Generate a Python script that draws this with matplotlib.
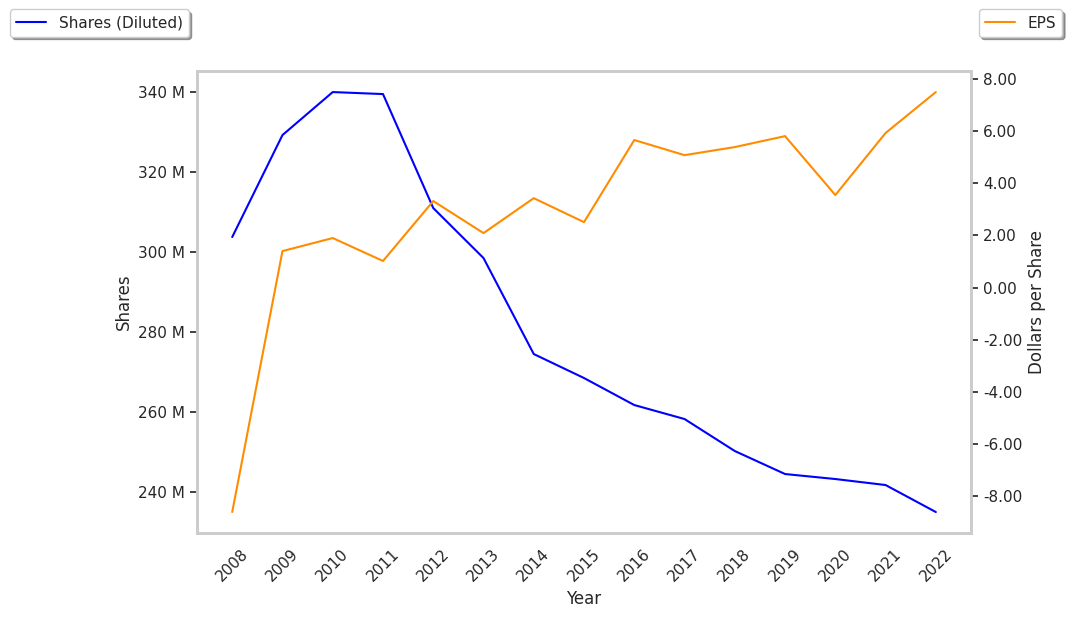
import matplotlib
matplotlib.use("Agg")
import matplotlib.pyplot as plt
import matplotlib.ticker as mticker
import seaborn as sns

years = [2008, 2009, 2010, 2011, 2012, 2013, 2014, 2015, 2016, 2017, 2018, 2019, 2020, 2021, 2022]
shares = [303.75, 329.25, 340.0, 339.5, 311.0, 298.5, 274.5, 268.5, 261.75, 258.25, 250.25, 244.5, 243.25, 241.75, 235.0]
eps = [-8.61, 1.40, 1.90, 1.02, 3.32, 2.09, 3.43, 2.51, 5.66, 5.08, 5.39, 5.81, 3.55, 5.93, 7.50]

sns.set_theme(style="white")
plt.rcParams['font.family'] = ['DejaVu Sans']

fig = plt.figure(figsize=(10.72, 6.18), dpi=100)
ax = fig.add_axes([0.1838, 0.1375, 0.722, 0.7475])
ax2 = ax.twinx()

l1, = ax.plot(years, [s * 1e6 for s in shares], color="blue", linewidth=1.5, label="Shares (Diluted)")
l2, = ax2.plot(years, eps, color="darkorange", linewidth=1.5, label="EPS")

ax.set_xticks(years)
ax.set_xticklabels([str(y) for y in years], rotation=45)
ax.yaxis.set_major_formatter(mticker.FuncFormatter(lambda v, p: f"{v/1e6:.0f} M"))
ax2.yaxis.set_major_formatter(mticker.FuncFormatter(lambda v, p: f"{v:.2f}"))
ax.set_yticks([240e6, 260e6, 280e6, 300e6, 320e6, 340e6])
ax2.set_yticks([-8, -6, -4, -2, 0, 2, 4, 6, 8])

ax.set_xlabel("Year")
ax.set_ylabel("Shares")
ax2.set_ylabel("Dollars per Share")

for a in (ax, ax2):
    for sp in a.spines.values():
        sp.set_color("#cccccc")
        sp.set_linewidth(2.0)
ax.tick_params(axis="y", which="major", left=True, length=5, width=1.3, color="#333333")
ax2.tick_params(axis="y", which="major", right=True, length=5, width=1.3, color="#333333")
ax.tick_params(axis="x", bottom=False)

fig.legend(handles=[l1], loc="upper left", bbox_to_anchor=(0.002, 0.997), shadow=True, frameon=True)
fig.legend(handles=[l2], loc="upper right", bbox_to_anchor=(0.998, 0.997), shadow=True, frameon=True)

fig.savefig("out.png", dpi=100)
